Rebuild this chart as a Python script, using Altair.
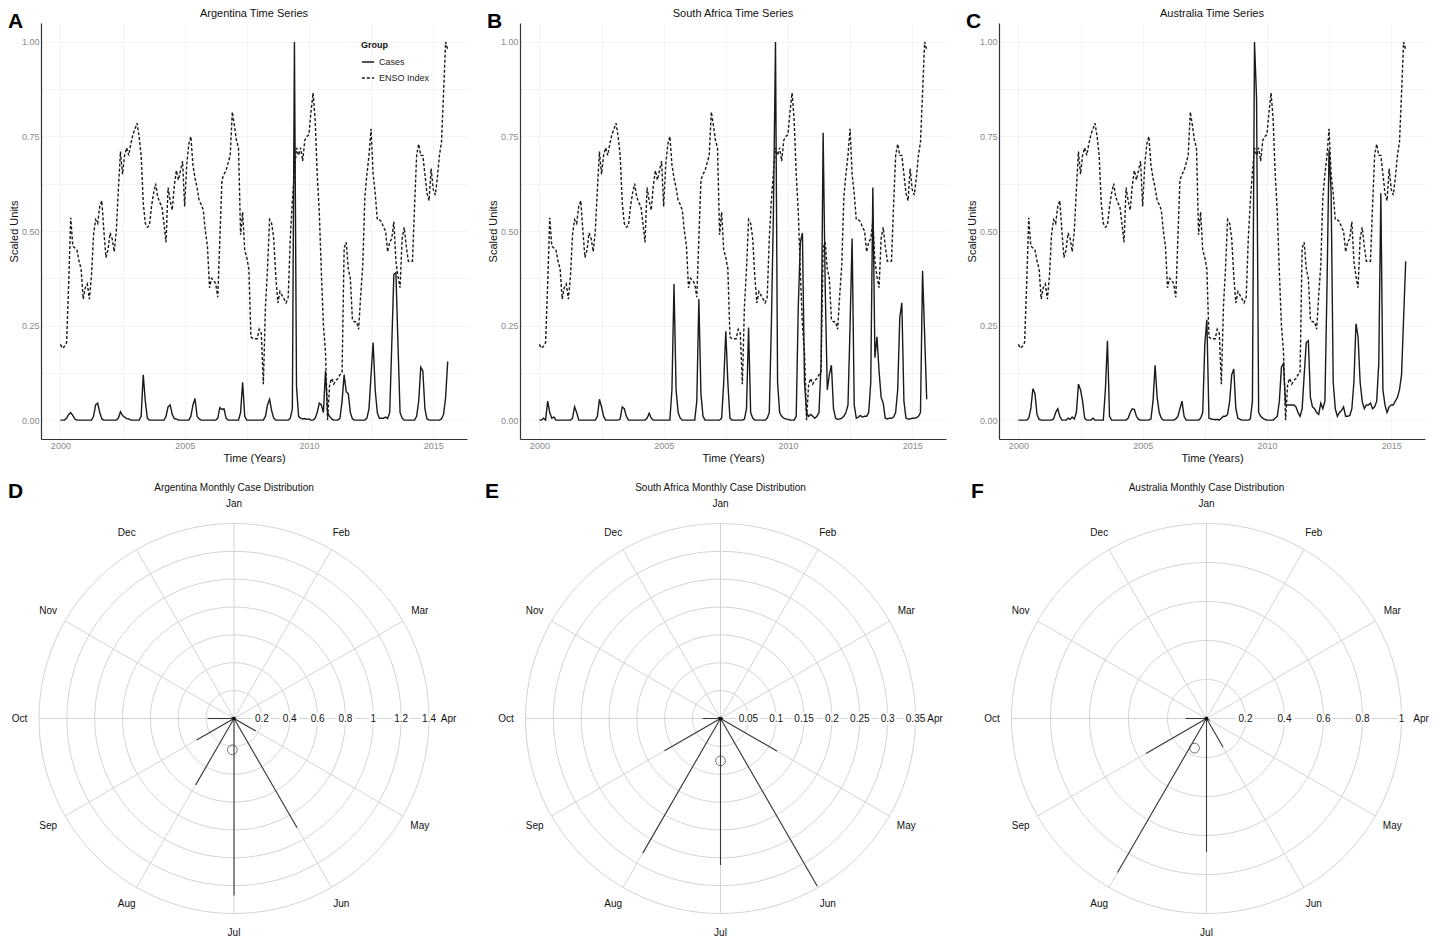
import altair as alt
import pandas as pd

FONT = "Liberation Sans"

# ---------------- time-series data (monthly, Jan 2000 .. Aug 2015) ----------------
START_YEAR = 2000
enso = [
    0.20, 0.19, 0.195, 0.205, 0.36, 0.535, 0.46, 0.455, 0.45, 0.42, 0.40, 0.32,   # 2000
    0.35, 0.36, 0.32, 0.38, 0.49, 0.53, 0.52, 0.565, 0.58, 0.50, 0.43, 0.45,      # 2001
    0.495, 0.48, 0.445, 0.50, 0.61, 0.71, 0.65, 0.70, 0.72, 0.70, 0.73, 0.755,    # 2002
    0.77, 0.785, 0.75, 0.70, 0.575, 0.52, 0.51, 0.515, 0.565, 0.60, 0.625, 0.59,  # 2003
    0.575, 0.565, 0.52, 0.47, 0.615, 0.58, 0.555, 0.62, 0.66, 0.635, 0.66, 0.685, # 2004
    0.565, 0.675, 0.73, 0.75, 0.675, 0.64, 0.615, 0.58, 0.57, 0.555, 0.50, 0.46,  # 2005
    0.35, 0.375, 0.37, 0.36, 0.325, 0.48, 0.635, 0.65, 0.66, 0.68, 0.70, 0.815,   # 2006
    0.78, 0.74, 0.72, 0.49, 0.55, 0.45, 0.43, 0.40, 0.22, 0.215, 0.215, 0.215,    # 2007
    0.24, 0.23, 0.095, 0.30, 0.40, 0.53, 0.52, 0.48, 0.38, 0.31, 0.34, 0.33,      # 2008
    0.32, 0.31, 0.325, 0.48, 0.58, 0.655, 0.72, 0.70, 0.72, 0.685, 0.74, 0.75,    # 2009
    0.755, 0.815, 0.865, 0.795, 0.65, 0.55, 0.39, 0.25, 0.18, 0.0, 0.095, 0.11,   # 2010
    0.095, 0.105, 0.11, 0.12, 0.125, 0.455, 0.47, 0.40, 0.375, 0.265, 0.26, 0.26, # 2011
    0.24, 0.33, 0.41, 0.59, 0.65, 0.70, 0.77, 0.65, 0.60, 0.53, 0.53, 0.525,      # 2012
    0.51, 0.50, 0.445, 0.47, 0.48, 0.525, 0.42, 0.38, 0.35, 0.48, 0.51, 0.46,     # 2013
    0.42, 0.42, 0.42, 0.565, 0.70, 0.73, 0.70, 0.70, 0.65, 0.60, 0.58, 0.665,     # 2014
    0.61, 0.595, 0.64, 0.70, 0.735, 0.865, 1.0, 0.98,                             # 2015
]

cases_argentina = [
    0, 0, 0, 0.005, 0.015, 0.02, 0.012, 0.003, 0, 0, 0, 0,
    0, 0, 0, 0, 0.01, 0.04, 0.045, 0.02, 0.003, 0, 0, 0,
    0, 0, 0, 0, 0.005, 0.022, 0.012, 0.008, 0.004, 0.003, 0, 0,
    0, 0, 0, 0.01, 0.12, 0.05, 0.005, 0, 0, 0, 0, 0,
    0, 0, 0, 0.01, 0.035, 0.04, 0.015, 0.004, 0.003, 0, 0, 0,
    0, 0, 0, 0.01, 0.04, 0.057, 0.01, 0.003, 0, 0, 0, 0,
    0, 0, 0, 0, 0.005, 0.033, 0.028, 0.03, 0.005, 0, 0, 0,
    0, 0, 0, 0.02, 0.10, 0.01, 0, 0, 0, 0, 0, 0,
    0, 0, 0, 0.01, 0.04, 0.055, 0.025, 0.005, 0, 0, 0, 0,
    0, 0, 0, 0.005, 0.03, 1.0, 0.09, 0.01, 0.005, 0.003, 0.004, 0.002,
    0.003, 0, 0, 0.005, 0.02, 0.045, 0.04, 0.02, 0.13, 0.02, 0.01, 0.003,
    0, 0, 0, 0.005, 0.05, 0.12, 0.075, 0.07, 0.02, 0.003, 0, 0,
    0, 0, 0, 0, 0.005, 0.03, 0.12, 0.205, 0.08, 0.02, 0.005, 0.005,
    0.005, 0.008, 0.004, 0.02, 0.2, 0.385, 0.39, 0.2, 0.02, 0.005, 0, 0,
    0, 0, 0, 0, 0.01, 0.05, 0.14, 0.13, 0.03, 0.003, 0, 0,
    0, 0, 0, 0, 0.003, 0.015, 0.06, 0.155,
]

cases_south_africa = [
    0, 0, 0.005, 0, 0.05, 0.02, 0.005, 0.008, 0, 0, 0, 0,
    0, 0, 0, 0, 0.005, 0.035, 0.02, 0, 0, 0, 0, 0,
    0, 0, 0, 0, 0.01, 0.055, 0.035, 0.01, 0, 0, 0, 0,
    0, 0, 0, 0.003, 0.035, 0.03, 0.01, 0, 0, 0, 0, 0,
    0, 0, 0, 0, 0.005, 0.018, 0.005, 0, 0, 0, 0, 0,
    0, 0, 0, 0, 0.08, 0.36, 0.08, 0.02, 0.005, 0, 0, 0,
    0, 0, 0, 0, 0.05, 0.32, 0.07, 0.01, 0, 0, 0, 0,
    0, 0, 0, 0, 0.005, 0.1, 0.235, 0.1, 0.005, 0, 0, 0,
    0, 0, 0, 0.003, 0.03, 0.245, 0.02, 0.005, 0, 0, 0, 0,
    0, 0, 0.005, 0.02, 0.25, 0.55, 1.0, 0.1, 0.02, 0.01, 0.005, 0.003,
    0.002, 0, 0, 0, 0.01, 0.3, 0.47, 0.495, 0.1, 0.02, 0.01, 0.015,
    0.01, 0.005, 0.01, 0.02, 0.15, 0.76, 0.35, 0.08, 0.12, 0.145, 0.03, 0.005,
    0.002, 0.003, 0.005, 0.01, 0.02, 0.04, 0.25, 0.48, 0.04, 0.005, 0.008, 0.012,
    0.008, 0.01, 0.01, 0.02, 0.1, 0.615, 0.165, 0.22, 0.13, 0.06, 0.045, 0.005,
    0.003, 0.005, 0.005, 0.008, 0.02, 0.08, 0.27, 0.31, 0.05, 0.005, 0.003, 0.003,
    0.005, 0.005, 0.006, 0.01, 0.02, 0.395, 0.225, 0.055,
]

cases_australia = [
    0, 0, 0, 0, 0, 0.005, 0.03, 0.083, 0.07, 0.015, 0.002, 0,
    0, 0, 0, 0, 0, 0.003, 0.02, 0.03, 0.01, 0, 0, 0,
    0.005, 0.002, 0.008, 0.003, 0.02, 0.095, 0.08, 0.05, 0.005, 0, 0, 0,
    0.005, 0, 0, 0, 0, 0, 0.08, 0.21, 0.01, 0, 0, 0,
    0, 0, 0, 0, 0, 0.005, 0.02, 0.03, 0.028, 0.01, 0.002, 0,
    0, 0, 0, 0, 0.003, 0.05, 0.145, 0.06, 0.02, 0.005, 0, 0,
    0, 0, 0, 0, 0.003, 0.01, 0.03, 0.05, 0.01, 0, 0, 0,
    0, 0, 0, 0, 0.005, 0.02, 0.2, 0.265, 0.005, 0.003, 0.002, 0.001,
    0.002, 0, 0.005, 0.01, 0.01, 0.015, 0.05, 0.12, 0.135, 0.03, 0.005, 0.002,
    0, 0, 0, 0, 0.003, 0.05, 1.0, 0.85, 0.02, 0.01, 0.005, 0.002,
    0, 0, 0, 0, 0.005, 0.01, 0.05, 0.14, 0.15, 0.04, 0.04, 0.04,
    0.04, 0.04, 0.035, 0.02, 0.01, 0.03, 0.12, 0.205, 0.21, 0.06, 0.035, 0.03,
    0.02, 0.015, 0.045, 0.03, 0.05, 0.35, 0.715, 0.6, 0.1, 0.03, 0.01, 0.02,
    0.025, 0.035, 0.01, 0.01, 0.012, 0.03, 0.1, 0.255, 0.22, 0.1, 0.05, 0.03,
    0.04, 0.04, 0.045, 0.03, 0.035, 0.05, 0.15, 0.6, 0.08, 0.04, 0.02, 0.035,
    0.04, 0.04, 0.05, 0.06, 0.08, 0.12, 0.27, 0.42,
]

countries = ["Argentina", "South Africa", "Australia"]
cases = {
    "Argentina": cases_argentina,
    "South Africa": cases_south_africa,
    "Australia": cases_australia,
}
groups = ["Cases", "ENSO Index"]
x_ticks = [2000, 2002.5, 2005, 2007.5, 2010, 2012.5, 2015]
y_ticks = [0, 0.125, 0.25, 0.375, 0.5, 0.625, 0.75, 0.875, 1.0]

# ---------------- polar (monthly distribution) data ----------------
month_names = ["Jan", "Feb", "Mar", "Apr", "May", "Jun",
               "Jul", "Aug", "Sep", "Oct", "Nov", "Dec"]
polar_values = {
    "Argentina":    [0.0, 0.0, 0.0, 0.01, 0.18, 0.906, 1.27, 0.55, 0.31, 0.19, 0.02, 0.0],
    "South Africa": [0.0, 0.0, 0.0, 0.005, 0.117, 0.347, 0.263, 0.279, 0.116, 0.032, 0.005, 0.0],
    "Australia":    [0.0, 0.0, 0.0, 0.005, 0.02, 0.169, 0.684, 0.912, 0.358, 0.108, 0.01, 0.0],
}
polar_mean_angle = {"Argentina": 183.0, "South Africa": 180.0, "Australia": 202.0}
polar_mean_radius = {"Argentina": 0.225, "South Africa": 0.076, "Australia": 0.164}
rings = {
    "Argentina":    [0.2, 0.4, 0.6, 0.8, 1.0, 1.2, 1.4],
    "South Africa": [0.05, 0.1, 0.15, 0.2, 0.25, 0.3, 0.35],
    "Australia":    [0.2, 0.4, 0.6, 0.8, 1.0],
}
letters_top = ["A", "B", "C"]
letters_bottom = ["D", "E", "F"]

TS_W, TS_H = 426, 416
POLAR_HALF = 223.5          # px from centre to frame edge (right, top, bottom)
POLAR_LEFT = {"Argentina": 193.0, "South Africa": 223.5, "Australia": 223.5}
LETTER_DX = {"Argentina": -33, "South Africa": -12, "Australia": -12}
POLAR_PAD = 1.146           # POLAR_HALF in units of the outer ring


def text_layer(txt, x, y, **kw):
    return alt.Chart(pd.DataFrame({"l": [txt]})).mark_text(font=FONT, **kw).encode(
        x=alt.value(x), y=alt.value(y), text="l:N")


def ts_panel(country, letter):
    n = len(enso)
    df = pd.DataFrame({
        "m": list(range(n)) * 2,
        "value": cases[country] + enso,
        "Group": [groups[0]] * n + [groups[1]] * n,
    })
    base = alt.Chart(df).transform_calculate(t=f"{START_YEAR} + datum.m/12")
    axis_common = dict(grid=True, gridColor="#ededed", gridWidth=0.6,
                       ticks=False, labelPadding=2,
                       domainColor="#333333", domainWidth=1.2,
                       labelColor="#8a8a8a", labelFontSize=9, labelFont=FONT,
                       titleFontSize=11, titleFont=FONT, titleFontWeight="normal",
                       titleColor="#111111", titlePadding=2)
    lines = base.mark_line(strokeWidth=1.4, color="#1a1a1a").encode(
        x=alt.X("t:Q",
                scale=alt.Scale(domain=[1999.22, 2016.36], nice=False, zero=False),
                axis=alt.Axis(values=x_ticks, title="Time (Years)",
                              labelExpr="datum.value % 5 == 0 ? format(datum.value, 'd') : ''",
                              **axis_common)),
        y=alt.Y("value:Q",
                scale=alt.Scale(domain=[-0.05, 1.05], nice=False, zero=False),
                axis=alt.Axis(values=y_ticks, title="Scaled Units",
                              labelExpr="(datum.value*4) % 1 == 0 ? format(datum.value, '.2f') : ''",
                              **axis_common)),
        strokeDash=alt.StrokeDash(
            "Group:N",
            scale=alt.Scale(domain=groups, range=[[1, 0], [3, 2]]),
            legend=alt.Legend(title="Group", orient="none", legendX=TS_W - 106, legendY=18,
                              symbolType="stroke", symbolStrokeColor="#1a1a1a",
                              symbolStrokeWidth=1.5, symbolSize=150,
                              titleFontSize=9, titleFont=FONT, titleFontWeight="bold",
                              titleColor="#111111", labelFontSize=9, labelFont=FONT,
                              labelColor="#222222", rowPadding=4, titlePadding=5),
        ),
        detail="Group:N",
    )
    title = text_layer(f"{country} Time Series", TS_W / 2, -4, fontSize=11,
                       baseline="bottom", align="center", color="#111111")
    lab = text_layer(letter, -33, -12, fontSize=21, fontWeight="bold",
                     baseline="top", align="left", color="#000000")
    return alt.layer(lines, title, lab).properties(width=TS_W, height=TS_H)


def polar_panel(country, letter):
    R = rings[country][-1]
    L = R * POLAR_PAD
    left_px = POLAR_LEFT[country]
    width = left_px + POLAR_HALF
    sx = alt.Scale(domain=[-L * left_px / POLAR_HALF, L], nice=False, zero=False)
    sy = alt.Scale(domain=[-L, L], nice=False, zero=False)

    def xy(xf, yf):
        return dict(x=alt.X(xf, scale=sx, axis=None), y=alt.Y(yf, scale=sy, axis=None))

    ring_df = pd.DataFrame({"r": rings[country]})
    ring_lines = alt.Chart(ring_df).transform_calculate(
        a="sequence(0, 363, 3)"
    ).transform_flatten(["a"]).transform_calculate(
        px="datum.r*sin(datum.a*PI/180)", py="datum.r*cos(datum.a*PI/180)"
    ).mark_line(color="#d4d4d4", strokeWidth=1).encode(
        **xy("px:Q", "py:Q"), detail="r:N", order="a:Q"
    )

    mdf = pd.DataFrame({"month": month_names, "idx": list(range(12)),
                        "v": polar_values[country]})
    base_m = alt.Chart(mdf).transform_calculate(
        ang="datum.idx*30*PI/180", zero="0"
    )
    spokes = base_m.transform_calculate(
        px=f"{R}*sin(datum.ang)", py=f"{R}*cos(datum.ang)"
    ).mark_rule(color="#d4d4d4", strokeWidth=1).encode(
        **xy("zero:Q", "zero:Q"), x2="px:Q", y2="py:Q"
    )
    data_lines = base_m.transform_calculate(
        px="datum.v*sin(datum.ang)", py="datum.v*cos(datum.ang)"
    ).mark_rule(color="#3a3a3a", strokeWidth=1.1).encode(
        **xy("zero:Q", "zero:Q"), x2="px:Q", y2="py:Q"
    )
    month_labels = base_m.transform_calculate(
        px=f"{R}*1.1*sin(datum.ang)", py=f"{R}*1.1*cos(datum.ang)"
    ).mark_text(fontSize=10, font=FONT, color="#111111").encode(
        **xy("px:Q", "py:Q"), text="month:N"
    )

    ring_lab_base = alt.Chart(ring_df).transform_calculate(zero="0")
    ring_halo = ring_lab_base.mark_text(
        fontSize=10, font=FONT, stroke="white", strokeWidth=5, color="white"
    ).encode(**xy("r:Q", "zero:Q"), text=alt.Text("r:Q", format="~g"))
    ring_text = ring_lab_base.mark_text(
        fontSize=10, font=FONT, color="#111111"
    ).encode(**xy("r:Q", "zero:Q"), text=alt.Text("r:Q", format="~g"))

    mean_df = pd.DataFrame({"a": [polar_mean_angle[country]],
                            "r": [polar_mean_radius[country]]})
    mean_pt = alt.Chart(mean_df).transform_calculate(
        px="datum.r*sin(datum.a*PI/180)", py="datum.r*cos(datum.a*PI/180)"
    ).mark_point(shape="circle", size=95, filled=False, color="#3a3a3a",
                 strokeWidth=1).encode(**xy("px:Q", "py:Q"))

    center = alt.Chart(pd.DataFrame({"c": [0.0]})).mark_point(
        shape="square", filled=True, size=10, color="#111111", opacity=1
    ).encode(**xy("c:Q", "c:Q"))

    title = text_layer(f"{country} Monthly Case Distribution", left_px, -2,
                       fontSize=10, baseline="bottom", align="center", color="#111111")
    lab = text_layer(letter, LETTER_DX[country], -14, fontSize=21, fontWeight="bold",
                     baseline="top", align="left", color="#000000")

    return alt.layer(ring_lines, spokes, data_lines, ring_halo, ring_text,
                     month_labels, mean_pt, center, title, lab).properties(
        width=width, height=2 * POLAR_HALF)


top = alt.hconcat(*[ts_panel(c, l) for c, l in zip(countries, letters_top)], spacing=20)
bottom = alt.hconcat(*[polar_panel(c, l) for c, l in zip(countries, letters_bottom)],
                     spacing=27)

chart = alt.concat(top, bottom, columns=1, align="none", spacing=18).properties(
    padding=0
).configure(font=FONT, background="white").configure_view(stroke=None)

chart.save("out.html", embed_options={"renderer": "svg", "actions": False})
